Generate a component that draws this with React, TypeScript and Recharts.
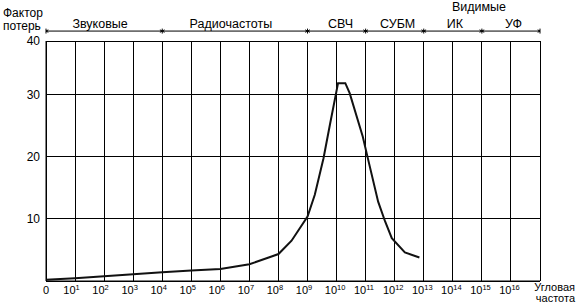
import { LineChart, Line, XAxis, YAxis, CartesianGrid, ReferenceLine } from 'recharts'

// x: log10 of angular frequency, y: loss factor
const freqExp = [0, 1, 2, 3, 4, 5, 6, 7, 8, 8.45, 9, 9.25, 9.55, 9.77, 10.05, 10.3, 10.45, 10.9, 11.05, 11.43, 11.67, 11.9, 12.35, 12.85]
const lossFactor = [0.2, 0.45, 0.75, 1.1, 1.4, 1.7, 1.95, 2.7, 4.35, 6.5, 10.4, 13.9, 19.8, 25.2, 31.9, 31.9, 30.3, 23.3, 20.3, 12.8, 9.6, 6.9, 4.6, 3.8]

const xTicks = [0, 1, 2, 3, 4, 5, 6, 7, 8, 9, 10, 11, 12, 13, 14, 15, 16, 17]
const yTicks = [10, 20, 30, 38.7]
const yTickLabels = ['10', '20', '30', '40']

// frequency bands along the top
const bandNames = ['Звуковые', 'Радиочастоты', 'СВЧ', 'СУБМ', 'ИК', 'УФ']
const bandEdges = [0, 4, 9, 11, 13, 15, 17]
const bandLabelShift = [-4, -4, 4, 3, 2, 2.5]
const BAND_Y = 40.3

const data = freqExp.map((x, i) => ({ x, loss: lossFactor[i] }))

const FONT = '"Liberation Sans", Arial, sans-serif'

function XTick({ x, y, payload }: any) {
  const v = payload.value
  if (v === 17) return <g />
  if (v === 0) {
    return (
      <text x={x} y={y + 13} textAnchor="middle" fontSize={11} fontFamily={FONT} fill="#000">0</text>
    )
  }
  return (
    <g>
      <text x={x + 0.5} y={y + 13} textAnchor="end" fontSize={11} fontFamily={FONT} fill="#000">10</text>
      <text x={x + 0.5} y={y + 9} textAnchor="start" fontSize={7.5} fontFamily={FONT} fill="#000">{v}</text>
    </g>
  )
}

function bandLabel(name: string, shift: number) {
  return (props: any) => {
    const vb = props.viewBox || {}
    return (
      <text x={vb.x + vb.width / 2 + shift} y={vb.y - 3} textAnchor="middle" fontSize={12.5} fontFamily={FONT} fill="#000">
        {name}
      </text>
    )
  }
}

// axis titles sit in the corners, next to the axes' ends
const yTitle = (props: any) => {
  const vb = props.viewBox || {}
  return (
    <g>
      <text x={3} y={vb.y - 24} fontSize={12} fontFamily={FONT} fill="#000">Фактор</text>
      <text x={3} y={vb.y - 11} fontSize={12} fontFamily={FONT} fill="#000">потерь</text>
    </g>
  )
}

const xTitle = (props: any) => {
  const vb = props.viewBox || {}
  return (
    <g>
      <text x={575} y={vb.y + 10} textAnchor="end" fontSize={11} fontFamily={FONT} fill="#000">Угловая</text>
      <text x={575} y={vb.y + 21} textAnchor="end" fontSize={11} fontFamily={FONT} fill="#000">частота</text>
    </g>
  )
}

export default function App() {
  const arrows: any[] = []
  bandEdges.forEach((b, i) => {
    arrows.push(
      <ReferenceLine key={'sep' + i} segment={[{ x: b, y: BAND_Y - 0.4 }, { x: b, y: BAND_Y + 0.4 }]}
        stroke="#000" ifOverflow="visible" />
    )
    if (i > 0) {
      arrows.push(
        <ReferenceLine key={'ra' + i} segment={[{ x: b - 0.08, y: BAND_Y + 0.2 }, { x: b, y: BAND_Y }]} stroke="#000" ifOverflow="visible" />,
        <ReferenceLine key={'rb' + i} segment={[{ x: b - 0.08, y: BAND_Y - 0.2 }, { x: b, y: BAND_Y }]} stroke="#000" ifOverflow="visible" />
      )
    }
    if (i < bandEdges.length - 1) {
      arrows.push(
        <ReferenceLine key={'la' + i} segment={[{ x: b + 0.08, y: BAND_Y + 0.2 }, { x: b, y: BAND_Y }]} stroke="#000" ifOverflow="visible" />,
        <ReferenceLine key={'lb' + i} segment={[{ x: b + 0.08, y: BAND_Y - 0.2 }, { x: b, y: BAND_Y }]} stroke="#000" ifOverflow="visible" />
      )
    }
  })

  return (
    <div style={{ position: 'absolute', left: 0, top: 0, width: 576, height: 305, background: '#fff' }}>
      <LineChart width={576} height={305} data={data} margin={{ top: 41, right: 36, bottom: 0, left: 0 }}>
        <CartesianGrid stroke="#000" strokeWidth={1} shapeRendering="crispEdges" />
        <XAxis
          dataKey="x"
          type="number"
          domain={[0, 17]}
          ticks={xTicks}
          interval={0}
          height={24}
          tickLine={false}
          tickSize={0}
          tickMargin={0}
          axisLine={{ stroke: '#000' }}
          tick={<XTick />}
          label={xTitle}
        />
        <YAxis
          type="number"
          domain={[0, 38.7]}
          ticks={yTicks}
          interval={0}
          width={46}
          tickLine={false}
          tickSize={4}
          tickMargin={2}
          axisLine={{ stroke: '#000' }}
          tickFormatter={(v: number) => yTickLabels[yTicks.indexOf(v)] ?? ''}
          tick={{ fill: '#000', fontSize: 12, fontFamily: FONT }}
          label={yTitle}
        />
        <ReferenceLine segment={[{ x: 0, y: BAND_Y }, { x: 17, y: BAND_Y }]} stroke="#000" ifOverflow="visible" />
        {bandNames.map((name, i) => (
          <ReferenceLine
            key={name}
            segment={[{ x: bandEdges[i], y: BAND_Y }, { x: bandEdges[i + 1], y: BAND_Y }]}
            stroke="none"
            ifOverflow="visible"
            label={bandLabel(name, bandLabelShift[i])}
          />
        ))}
        <ReferenceLine
          segment={[{ x: 14.3, y: BAND_Y + 2.8 }, { x: 15.5, y: BAND_Y + 2.8 }]}
          stroke="none"
          ifOverflow="visible"
          label={bandLabel('Видимые', 0)}
        />
        {arrows}
        <Line
          dataKey="loss"
          type="linear"
          stroke="#111"
          strokeWidth={2}
          dot={false}
          isAnimationActive={false}
        />
      </LineChart>
    </div>
  )
}
